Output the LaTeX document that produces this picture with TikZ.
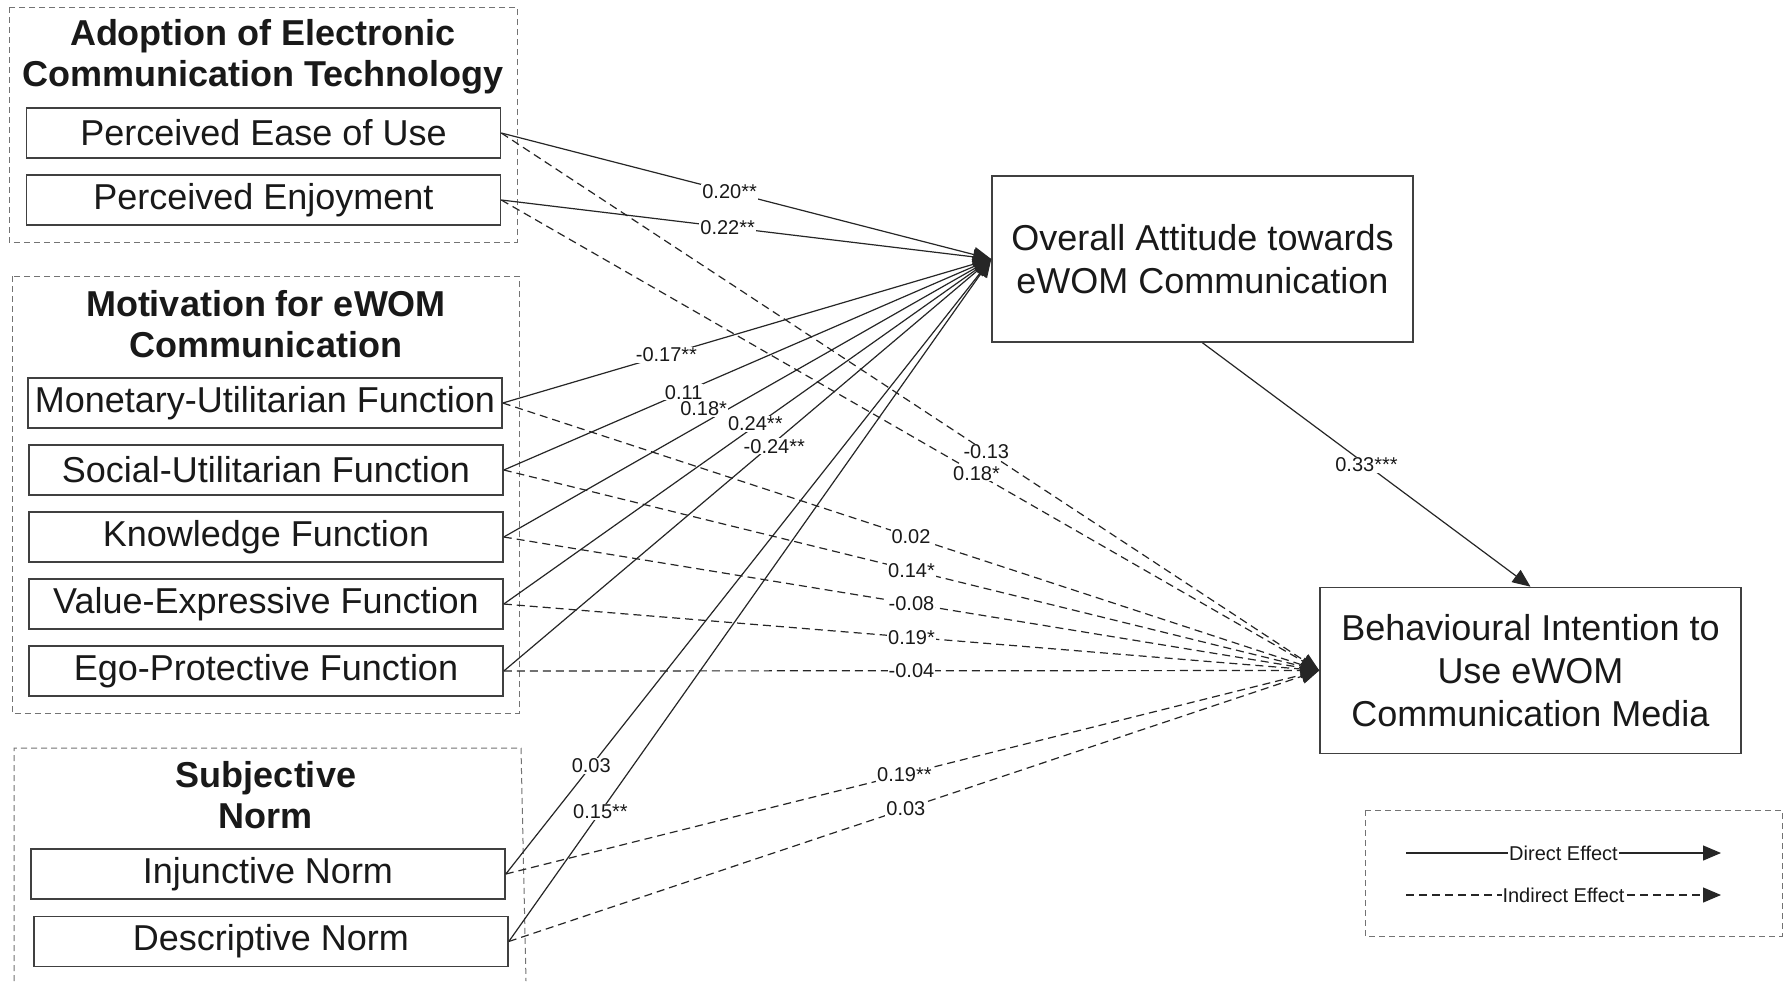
\documentclass[tikz,border=0pt]{standalone}
\usepackage{fontspec}
\setmainfont{Liberation Sans}
\usetikzlibrary{arrows.meta}
\begin{document}
\begin{tikzpicture}[x=0.5pt,y=-0.5pt,
  box/.style={draw=black!75, line width=0.8pt, minimum width=237pt, minimum height=25pt,
    inner sep=0pt, text=black!90, font=\fontsize{18}{21}\selectfont},
  bigbox/.style={draw=black!75, line width=0.8pt, minimum width=210.5pt, minimum height=83pt,
    inner sep=0pt, align=center, text=black!90, font=\fontsize{18}{21.5}\selectfont},
  grp/.style={draw=black!55, line width=0.5pt, dash pattern=on 3pt off 2pt},
  gtitle/.style={align=center, text=black!90, font=\fontsize{18}{20.5}\selectfont\bfseries},
  lab/.style={fill=white, inner sep=0.5pt, text=black!90, font=\fontsize{10}{12}\selectfont},
  direct/.style={draw=black!85, line width=0.6pt, -{Triangle[length=9pt,width=7.5pt]}},
  indirect/.style={direct, dash pattern=on 4pt off 2.5pt},
]
\useasboundingbox (0,0) rectangle (1784,981);
\fill[white] (0,0) rectangle (1784,981);

% construct groups
\draw[grp] (9,7) rectangle (517,242);
\draw[grp] (12,276) rectangle (519,713);
\draw[grp] (14,981) -- (14,748) -- (521,748) -- (526,981);

\node[gtitle] (t1) at (263,57) {Adoption of Electronic\\Communication Technology};
\node[gtitle] (t2) at (266,324) {Motivation for eWOM\\Communication};
\node[gtitle] (t3) at (266,795) {Subjective\\Norm};

% predictors
\node[box] (peu) at (263.5,133) {Perceived Ease of Use};
\node[box] (pe) at (263.5,200) {Perceived Enjoyment};
\node[box] (mon) at (265,403) {Monetary-Utilitarian Function};
\node[box] (soc) at (266,470) {Social-Utilitarian Function};
\node[box] (kno) at (266,537) {Knowledge Function};
\node[box] (val) at (266,604) {Value-Expressive Function};
\node[box] (ego) at (266,671) {Ego-Protective Function};
\node[box] (inj) at (268,874) {Injunctive Norm};
\node[box] (des) at (271,941.5) {Descriptive Norm};

% outcomes
\node[bigbox] (ov) at (1202.5,259) {Overall Attitude towards\\eWOM Communication};
\node[bigbox] (bi) at (1530.5,670.5) {Behavioural Intention to\\Use eWOM\\Communication Media};

% direct effects on attitude
\draw[direct] (peu.east) -- node[lab,pos=0.466]{0.20**} (ov.west);
\draw[direct] (pe.east) -- node[lab,pos=0.462]{0.22**} (ov.west);
\draw[direct] (mon.east) -- node[lab,pos=0.335]{-0.17**} (ov.west);
\draw[direct] (soc.east) -- node[lab,pos=0.369]{0.11} (ov.west);
\draw[direct] (kno.east) -- node[lab,pos=0.41,yshift=7pt]{0.18*} (ov.west);
\draw[direct] (val.east) -- node[lab,pos=0.516,yshift=1pt]{0.24**} (ov.west);
\draw[direct] (ego.east) -- node[lab,pos=0.555,yshift=-2pt]{-0.24**} (ov.west);
\draw[direct] (inj.east) -- node[lab,pos=0.176]{0.03} (ov.west);
\draw[direct] (des.east) -- node[lab,pos=0.19]{0.15**} (ov.west);

% effects on intention
\draw[indirect] (peu.east) -- node[lab,pos=0.593]{-0.13} (bi.west);
\draw[indirect] (pe.east) -- node[lab,pos=0.581]{0.18*} (bi.west);
\draw[indirect] (mon.east) -- node[lab,pos=0.5]{0.02} (bi.west);
\draw[indirect] (soc.east) -- node[lab,pos=0.5]{0.14*} (bi.west);
\draw[indirect] (kno.east) -- node[lab,pos=0.5]{-0.08} (bi.west);
\draw[indirect] (val.east) -- node[lab,pos=0.5]{0.19*} (bi.west);
\draw[indirect] (ego.east) -- node[lab,pos=0.5]{-0.04} (bi.west);
\draw[indirect] (inj.east) -- node[lab,pos=0.49]{0.19**} (bi.west);
\draw[indirect] (des.east) -- node[lab,pos=0.49]{0.03} (bi.west);

\draw[direct] (ov.south) -- node[lab,pos=0.5]{0.33***} (bi.north);

% legend
\draw[grp] (1365,810) rectangle (1782,936);
\coordinate (d1) at (1406,853);
\coordinate (d2) at (1721,853);
\coordinate (i1) at (1406,895);
\coordinate (i2) at (1721,895);
\draw[direct] (d1) -- node[lab]{Direct Effect} (d2);
\draw[indirect] (i1) -- node[lab]{Indirect Effect} (i2);
\end{tikzpicture}
\end{document}
